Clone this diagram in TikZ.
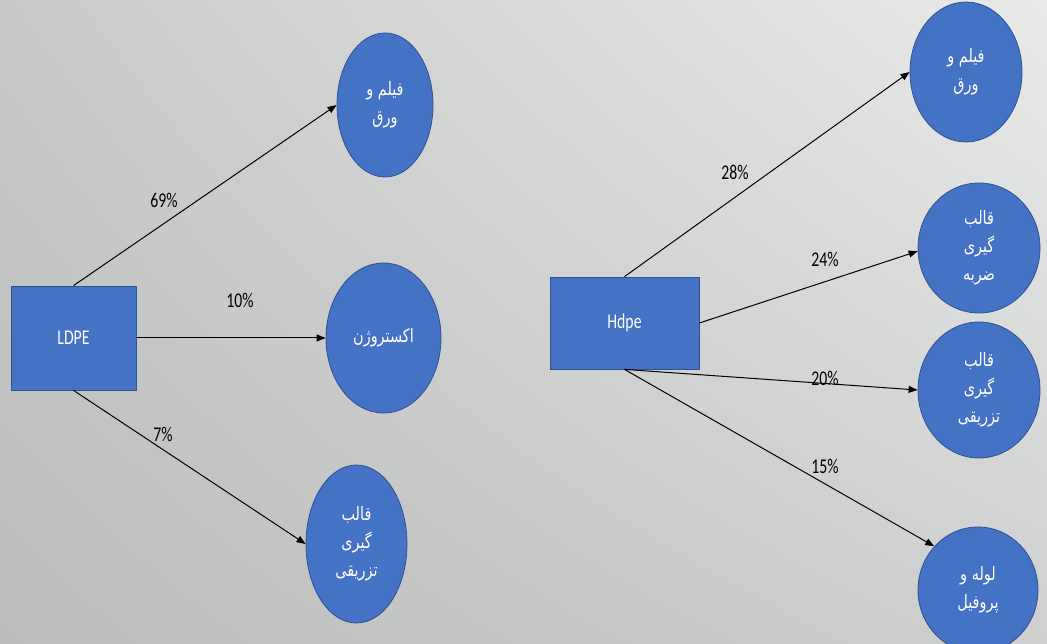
\documentclass[tikz,border=0pt]{standalone}
\usepackage{fontspec}
\usetikzlibrary{shapes.geometric,arrows.meta,shadings}
\setmainfont{Carlito}
\newfontfamily\pctfont[FakeStretch=0.75]{Carlito}
\newfontfamily\arabicfont[Script=Arabic,FakeStretch=0.78]{DejaVu Sans}
\TeXXeTstate=1
\definecolor{boxblue}{RGB}{68,114,196}
\definecolor{edgeblue}{RGB}{47,82,143}
\definecolor{bgul}{RGB}{200,202,202}
\definecolor{bgur}{RGB}{233,235,235}
\definecolor{bgll}{RGB}{187,189,189}
\definecolor{bglr}{RGB}{206,208,208}

\begin{document}
\begin{tikzpicture}[x=1pt,y=-1pt,line width=1pt,
    src/.style={rectangle,fill=boxblue,draw=edgeblue,line width=0.8pt,text=white,
      font=\pctfont\fontsize{21}{25}\selectfont},
    use/.style={ellipse,fill=boxblue,draw=edgeblue,line width=0.8pt,text=white,
      align=center,inner sep=0pt,font=\arabicfont\fontsize{18.5}{28}\selectfont},
    pct/.style={font=\pctfont\fontsize{21}{25}\selectfont},
    flow/.style={-{Triangle[length=9pt,width=7pt]}}]
  \useasboundingbox (0,0) rectangle (1047,644);
  \shade[upper left=bgul,upper right=bgur,lower left=bgll,lower right=bglr]
    (0,0) rectangle (1047,644);
  % LDPE
  \node[src,minimum width=125pt,minimum height=104pt] (ldpe) at (73.5,338) {LDPE};
  \node[use,minimum width=96pt,minimum height=144pt] (lfilm) at (385,105)
    {\beginR فیلم و\endR\\\beginR ورق\endR};
  \node[use,minimum width=115pt,minimum height=150pt] (lext) at (383.5,338)
    {\beginR اکستروژن\endR};
  \node[use,minimum width=101pt,minimum height=158pt] (linj) at (356.5,544)
    {\beginR قالب\endR\\\beginR گیری\endR\\\beginR تزریقی\endR};
  \draw[flow] (ldpe.north)--(lfilm.west);
  \draw[flow] (ldpe.east)--(lext.west);
  \draw[flow] (ldpe.south)--(linj.west);
  \node[pct] (p69) at (164,200) {69\%};
  \node[pct] (p10) at (240,300) {10\%};
  \node[pct] (p7) at (163,434) {7\%};
  % Hdpe
  \node[src,minimum width=149pt,minimum height=92pt] (hdpe) at (624.5,323) {Hdpe};
  \node[use,minimum width=112pt,minimum height=140pt] (rfilm) at (966,72)
    {\beginR فیلم و\endR\\\beginR ورق\endR};
  \node[use,minimum width=122pt,minimum height=130pt] (rblow) at (979,248)
    {\beginR قالب\endR\\\beginR گیری\endR\\\beginR ضربه\endR};
  \node[use,minimum width=122pt,minimum height=136pt] (rinj) at (979,390)
    {\beginR قالب\endR\\\beginR گیری\endR\\\beginR تزریقی\endR};
  \node[use,minimum width=120pt,minimum height=126pt] (rpipe) at (978,590)
    {\beginR لوله و\endR\\\beginR پروفیل\endR};
  \draw[flow] (hdpe.north)--(rfilm.west);
  \draw[flow] (hdpe.east)--(rblow.183);
  \draw[flow] (hdpe.south)--(rinj.west);
  \draw[flow] (hdpe.south)--(rpipe.135);
  \node[pct] (p28) at (735,172) {28\%};
  \node[pct] (p24) at (825,259) {24\%};
  \node[pct] (p20) at (825,378) {20\%};
  \node[pct] (p15) at (825,466) {15\%};
\end{tikzpicture}
\end{document}
